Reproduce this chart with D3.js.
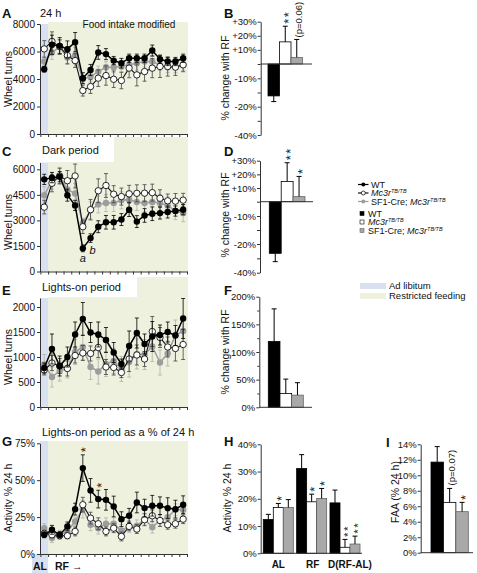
<!DOCTYPE html>
<html><head><meta charset="utf-8">
<script src="https://cdn.jsdelivr.net/npm/d3@7"></script>
<style>body{margin:0;background:#fff}svg{display:block}</style>
</head><body><svg id="chart" width="477" height="573"></svg>
<script>
// ---------------- DATA ----------------
const days = d3.range(19);
const genotypes = ["WT", "Mc3r", "SF1"];

const A_wt   = [4710,6490,6410,6170,6680,4060,4660,5930,5810,5340,5150,5510,5510,5510,6070,5440,5270,5270,5510];
const A_mc3r = [6190,6730,6360,5710,5340,3160,3450,4060,4250,3980,3890,4790,4300,4540,4790,4910,4910,4860,5030];
const A_sf1  = [5270,5930,6320,5560,5710,3980,4180,4540,4860,4860,4910,5030,5150,5270,5270,5030,4860,4860,5030];
const A_wt_err   = [200,700,600,600,700,400,400,500,400,300,350,300,300,300,400,300,300,300,300];
const A_mc3r_err = [600,700,500,600,500,400,500,600,700,600,600,700,800,700,700,800,700,600,500];
const A_sf1_err  = [300,500,500,500,600,300,400,400,400,400,400,400,500,400,400,400,400,400,400];

const C_wt   = [5410,5510,5570,4480,3880,1360,1960,2630,2890,2890,3050,3630,2930,3290,3390,3430,3490,3550,3630];
const C_mc3r = [3780,5180,5610,5330,5610,2630,3630,4740,5050,4540,4400,4560,4590,4600,4630,4300,4150,4130,4190];
const C_sf1  = [4480,5330,5610,4820,4580,2830,3590,3940,4020,4020,4180,4220,4080,4020,4080,4020,3880,3550,3430];
const C_wt_err   = [300,300,300,350,300,200,250,350,400,400,350,400,350,400,400,350,350,300,300];
const C_mc3r_err = [400,500,450,600,700,400,600,700,700,500,500,500,500,500,500,500,400,450,400];
const C_sf1_err  = [500,500,500,500,600,300,500,500,500,500,500,500,500,500,500,500,500,500,500];

const E_wt   = [780,1160,820,1000,1450,1760,1490,1450,1340,1090,860,1220,1480,1260,1410,1440,1500,1430,1770];
const E_mc3r = [740,880,820,770,1030,1080,1070,1190,800,790,690,960,1040,960,1510,1390,1200,1170,1250];
const E_sf1  = [850,600,720,780,1100,1200,800,710,860,920,760,900,1060,1050,1210,890,1070,1440,1520];
const E_wt_err   = [100,300,200,200,250,330,200,250,250,200,100,300,300,200,300,200,200,200,400];
const E_mc3r_err = [100,150,150,150,150,150,150,200,150,150,100,250,200,150,300,200,200,250,300];
const E_sf1_err  = [200,200,200,200,250,250,250,250,250,250,250,300,300,300,300,250,250,300,300];

const G_wt   = [13,16.4,13,18.7,30.4,58.2,43.1,37.2,36.7,32.2,23.6,25.9,34.9,31.1,32.7,32.7,31.1,30.4,33.4];
const G_mc3r = [14,13,12.4,12.4,15.3,33.4,24.3,20.5,15.3,17.5,11.9,18.7,16.9,23.2,25.9,22.7,19.8,20.5,23.6];
const G_sf1  = [17.5,10.8,13,15.3,22,30.4,19.8,17.5,20.5,20.5,16,18.7,19.1,23.6,18.2,22.7,25,30,30];
const G_wt_err   = [2,3,2,3,4,9,8,6,7,7,5,5,7,6,7,6,7,6,6];
const G_mc3r_err = [2,2,2,2,3,5,4,4,3,3,3,3,3,4,4,4,3,3,3];
const G_sf1_err  = [3,3,3,3,3,6,4,4,4,4,4,4,4,4,4,4,4,4,4];

const B_vals = [-16.2, 15.7, 4.7];   const B_errs = [2.0, 11.1, 12.7];
const D_vals = [-26.5, 14.8, 3.7];   const D_errs = [5.8, 13.7, 14.8];
const F_vals = [119, 25, 22];        const F_errs = [59, 26, 22.5];
const H_groups = ["AL", "RF", "D(RF-AL)"];
const H_wt   = [12.4, 31.1, 18.5];  const H_wt_err   = [1.9, 5.1, 4.7];
const H_mc3r = [16.8, 18.9, 2.2];   const H_mc3r_err = [1.5, 2.8, 2.9];
const H_sf1  = [16.8, 20.1, 3.4];   const H_sf1_err  = [2.9, 3.7, 2.9];
const I_vals = [11.7, 6.5, 5.3];    const I_errs = [2.0, 1.8, 1.2];

const ticksA = [0,2000,4000,6000,8000];
const ticksC = [0,1500,3000,4500,6000];
const ticksE = [0,500,1000,1500,2000];
const ticksG = [0,25,50,75];
const ticksBD = [30,20,10,0,-10,-15,-20,-30,-40];
const labelsBD = {30:"+30%",20:"+20%",10:"+10%","-10":"-10%","-20":"-20%","-40":"-40%"};

// ---------------- SETUP ----------------
const svg = d3.select('#chart');
const FONT = '"Liberation Sans", Arial, Helvetica, sans-serif';
const GREEN = '#eef1dd', BLUE = '#d9e1f1', AXIS = '#333';

function styleAxis(g, fs) {
  g.attr('font-family', FONT).attr('font-size', fs);
  g.selectAll('path.domain').attr('stroke', AXIS);
  g.selectAll('.tick line').attr('stroke', AXIS);
  g.selectAll('.tick text').attr('fill', '#111');
}
function text(x, y, s, o = {}) {
  const t = svg.append('text').attr('x', x).attr('y', y).text(s)
    .attr('font-family', FONT).attr('font-size', o.size || 10)
    .attr('fill', o.fill || '#111');
  if (o.anchor) t.attr('text-anchor', o.anchor);
  if (o.weight) t.attr('font-weight', o.weight);
  if (o.style) t.attr('font-style', o.style);
  if (o.ls) t.attr('letter-spacing', o.ls);
  if (o.rotate) t.attr('transform', `rotate(${o.rotate},${x},${y})`);
  return t;
}
// significance stars, stacked vertically as one rotated string starting just above yTop
function stars(xc, yTop, n, size = 13) {
  text(xc + 0.58 * size, yTop - 2.5, '*'.repeat(n), {size, rotate: -90, ls: n > 1 ? 1.5 : 0, fill: '#222'});
}

const SERIES = {
  sf1:  {line: '#9d9d9d', lw: 1.5, fill: '#9d9d9d', stroke: 'none', err: '#b0b0b0'},
  mc3r: {line: '#111',    lw: 1.1, fill: '#fff',    stroke: '#111', err: '#444'},
  wt:   {line: '#000',    lw: 1.5, fill: '#000',    stroke: 'none', err: '#000'}
};

const xLine = d3.scaleLinear().domain([-0.55, 18.5]).range([40, 187]);

function linePanel(p) {
  const y = d3.scaleLinear().domain([0, p.yMax]).range([p.bottom, p.top]);
  const xr = xLine(0.5);
  svg.append('rect').attr('x', xr).attr('y', p.greenTop).attr('width', 188 - xr)
    .attr('height', p.bottom - p.greenTop).attr('fill', GREEN);
  svg.append('rect').attr('x', 40).attr('y', p.blueTop).attr('width', xr - 40)
    .attr('height', p.bottom - p.blueTop).attr('fill', BLUE);
  if (p.box) svg.append('rect').attr('x', p.box[0]).attr('y', p.box[1]).attr('width', p.box[2])
    .attr('height', p.box[3]).attr('fill', '#fff');
  const ya = svg.append('g').attr('transform', 'translate(40,0)')
    .call(d3.axisLeft(y).tickValues(p.ticks).tickFormat(p.fmt).tickSize(3).tickSizeOuter(0).tickPadding(2));
  styleAxis(ya, 10);
  const xa = svg.append('g').attr('transform', `translate(0,${p.bottom})`)
    .call(d3.axisBottom(xLine).tickValues(d3.range(-0.5, 19, 1)).tickFormat('').tickSize(3).tickSizeOuter(0));
  styleAxis(xa, 10);
  for (const key of ['sf1', 'mc3r', 'wt']) {
    const s = SERIES[key], vals = p.data[key], errs = p.errs[key];
    const g = svg.append('g');
    days.forEach(i => {
      const x = xLine(i), y1 = y(Math.max(0, vals[i] - errs[i])), y2 = y(vals[i] + errs[i]);
      g.append('line').attr('x1', x).attr('x2', x).attr('y1', y1).attr('y2', y2).attr('stroke', s.err).attr('stroke-width', 0.8);
      [y1, y2].forEach(yy => g.append('line').attr('x1', x - 2).attr('x2', x + 2).attr('y1', yy).attr('y2', yy).attr('stroke', s.err).attr('stroke-width', 0.8));
    });
    g.append('path').datum(vals).attr('fill', 'none').attr('stroke', s.line).attr('stroke-width', s.lw)
      .attr('d', d3.line().x((d, i) => xLine(i)).y(d => y(d)));
    g.selectAll('circle').data(vals).join('circle').attr('cx', (d, i) => xLine(i)).attr('cy', d => y(d))
      .attr('r', 3.2).attr('fill', s.fill).attr('stroke', s.stroke).attr('stroke-width', 0.9);
  }
  return y;
}

const fmtNum = d => d;
const fmtPct = d => d + '%';

// ---- A ----
linePanel({top: 24, bottom: 134, yMax: 8000, ticks: ticksA, fmt: fmtNum, greenTop: 22, blueTop: 24,
  data: {wt: A_wt, mc3r: A_mc3r, sf1: A_sf1}, errs: {wt: A_wt_err, mc3r: A_mc3r_err, sf1: A_sf1_err}});
text(2, 18, 'A', {size: 13, weight: 'bold'});
text(40, 17, '24 h', {size: 11});
text(129, 28, 'Food intake modified', {size: 10, anchor: 'middle'});
text(12, 79, 'Wheel turns', {size: 10.5, anchor: 'middle', rotate: -90});

// ---- C ----
const yC = linePanel({top: 162.5, bottom: 271.5, yMax: 6400, ticks: ticksC, fmt: fmtNum, greenTop: 137, blueTop: 162.5,
  box: [37, 137, 77, 25],
  data: {wt: C_wt, mc3r: C_mc3r, sf1: C_sf1}, errs: {wt: C_wt_err, mc3r: C_mc3r_err, sf1: C_sf1_err}});
text(2, 156, 'C', {size: 13, weight: 'bold'});
text(42, 154, 'Dark period', {size: 11});
text(12, 222, 'Wheel turns', {size: 10.5, anchor: 'middle', rotate: -90});
text(xLine(5), yC(C_wt[5]) + 14, 'a', {size: 11, style: 'italic', anchor: 'middle'});
text(xLine(6) + 2, yC(C_wt[6]) + 16, 'b', {size: 11, style: 'italic', anchor: 'middle'});

// ---- E ----
linePanel({top: 298, bottom: 407, yMax: 2180, ticks: ticksE, fmt: fmtNum, greenTop: 277, blueTop: 298,
  box: [37, 277, 100, 20],
  data: {wt: E_wt, mc3r: E_mc3r, sf1: E_sf1}, errs: {wt: E_wt_err, mc3r: E_mc3r_err, sf1: E_sf1_err}});
text(2, 295, 'E', {size: 13, weight: 'bold'});
text(42, 291, 'Lights-on period', {size: 11});
text(12, 357, 'Wheel turns', {size: 10.5, anchor: 'middle', rotate: -90});

// ---- G ----
svg.append('rect').attr('x', 32).attr('y', 554).attr('width', xLine(0.5) - 32).attr('height', 19).attr('fill', BLUE);
const yG = linePanel({top: 443.3, bottom: 554, yMax: 75, ticks: ticksG, fmt: fmtPct, greenTop: 441, blueTop: 441,
  data: {wt: G_wt, mc3r: G_mc3r, sf1: G_sf1}, errs: {wt: G_wt_err, mc3r: G_mc3r_err, sf1: G_sf1_err}});
text(2, 446, 'G', {size: 13, weight: 'bold'});
text(42, 436, 'Lights-on period as a % of 24 h', {size: 11});
text(12, 498, 'Activity % 24 h', {size: 10.5, anchor: 'middle', rotate: -90});
text(40, 570, 'AL', {size: 10.5, weight: 'bold', anchor: 'middle'});
text(55, 570, 'RF \u2192', {size: 10.5, weight: 'bold'});
stars(xLine(5), yG(G_wt[5] + G_wt_err[5]), 1);
stars(xLine(7), yG(G_wt[7] + G_wt_err[7]), 1);

// ---------------- BAR PANELS ----------------
const BAR = [
  {fill: '#000', stroke: '#000'},
  {fill: '#fff', stroke: '#000'},
  {fill: '#a9a9a9', stroke: '#666'}
];
function bar(x0, w, v, e, y, k) {
  const st = BAR[k];
  svg.append('rect').attr('x', x0).attr('width', w).attr('y', y(Math.max(0, v)))
    .attr('height', Math.abs(y(v) - y(0))).attr('fill', st.fill).attr('stroke', st.stroke).attr('stroke-width', 0.8);
  const xc = x0 + w / 2, ye = y(v >= 0 ? v + e : v - e);
  svg.append('line').attr('x1', xc).attr('x2', xc).attr('y1', y(v)).attr('y2', ye).attr('stroke', '#000').attr('stroke-width', 1);
  svg.append('line').attr('x1', xc - 2.5).attr('x2', xc + 2.5).attr('y1', ye).attr('y2', ye).attr('stroke', '#000').attr('stroke-width', 1);
  return ye;
}
function barAxis(ax, y, ticks, fmt) {
  const g = svg.append('g').attr('transform', `translate(${ax},0)`)
    .call(d3.axisLeft(y).tickValues(ticks).tickFormat(fmt).tickSize(3).tickSizeOuter(0).tickPadding(1));
  styleAxis(g, 9.5);
  return g;
}
function baseline(x1, x2, yy) {
  svg.append('line').attr('x1', x1).attr('x2', x2).attr('y1', yy).attr('y2', yy).attr('stroke', AXIS).attr('stroke-width', 1);
}

// ---- B ----
const yB = d3.scaleLinear().domain([-40, -20, -10, 0, 30]).range([135, 106.7, 78.3, 64, 21.7]);
barAxis(260.7, yB, ticksBD, d => labelsBD[d] || '');
const xB = d3.scaleBand().domain(genotypes).range([268, 302.5]);
const eB = genotypes.map((g, k) => bar(xB(g), xB.bandwidth(), B_vals[k], B_errs[k], yB, k));
baseline(260.7, 312, yB(0));
stars(xB('Mc3r') + xB.bandwidth() / 2, eB[1], 2);
text(302.5, eB[2] - 2, '(p=0.06)', {size: 9.5, rotate: -90});
text(224, 18, 'B', {size: 13, weight: 'bold'});
text(229, 78, '% change with RF', {size: 10.5, anchor: 'middle', rotate: -90});

// ---- D ----
const yD = d3.scaleLinear().domain([-40, -20, -10, 0, 30]).range([272.7, 244, 216, 201.7, 160.7]);
barAxis(260, yD, ticksBD, d => labelsBD[d] || '');
const xD = d3.scaleBand().domain(genotypes).range([269.3, 305]);
const eD = genotypes.map((g, k) => bar(xD(g), xD.bandwidth(), D_vals[k], D_errs[k], yD, k));
baseline(260, 313, yD(0));
stars(xD('Mc3r') + xD.bandwidth() / 2, eD[1], 2);
stars(xD('SF1') + xD.bandwidth() / 2, eD[2], 1);
text(224, 156, 'D', {size: 13, weight: 'bold'});
text(229, 215, '% change with RF', {size: 10.5, anchor: 'middle', rotate: -90});

// ---- F ----
const yF = d3.scaleLinear().domain([0, 200]).range([407.3, 296.7]);
barAxis(259.3, yF, [0, 50, 100, 150, 200], fmtPct);
svg.append('g').attr('transform', 'translate(259.3,0)')
  .call(d3.axisLeft(yF).tickValues([25, 75, 125, 175]).tickFormat('').tickSize(2).tickSizeOuter(0))
  .call(g => { g.select('.domain').remove(); g.selectAll('line').attr('stroke', AXIS); });
const xF = d3.scaleBand().domain(genotypes).range([268.3, 303.3]);
genotypes.forEach((g, k) => bar(xF(g), xF.bandwidth(), F_vals[k], F_errs[k], yF, k));
baseline(259.3, 312, yF(0));
text(224, 295, 'F', {size: 13, weight: 'bold'});
text(229, 352, '% change with RF', {size: 10.5, anchor: 'middle', rotate: -90});

// ---- H ----
const yH = d3.scaleLinear().domain([0, 40]).range([553.3, 444.3]);
barAxis(260.7, yH, [0, 10, 20, 30, 40], fmtPct);
const xH = d3.scaleBand().domain(H_groups).range([263.3, 360]).paddingInner(0.1);
const xHi = d3.scaleBand().domain(genotypes).range([0, xH.bandwidth()]);
const Hv = [H_wt, H_mc3r, H_sf1], He = [H_wt_err, H_mc3r_err, H_sf1_err];
const eH = H_groups.map((grp, j) => genotypes.map((g, k) =>
  bar(xH(grp) + xHi(g), xHi.bandwidth(), Hv[k][j], He[k][j], yH, k)));
baseline(260.7, 362, yH(0));
const cH = (grp, g) => xH(grp) + xHi(g) + xHi.bandwidth() / 2;
stars(cH('AL', 'Mc3r'), eH[0][1], 1);
stars(cH('RF', 'Mc3r'), eH[1][1], 1);
stars(cH('RF', 'SF1'), eH[1][2], 1);
stars(cH('D(RF-AL)', 'Mc3r'), eH[2][1], 2, 11.5);
stars(cH('D(RF-AL)', 'SF1'), eH[2][2], 2, 11.5);
const hLabelShift = [0, 1, 5];
H_groups.forEach((grp, j) => text(xH(grp) + xH.bandwidth() / 2 + hLabelShift[j], 568, grp, {size: 10, weight: 'bold', anchor: 'middle'}));
text(224, 446, 'H', {size: 13, weight: 'bold'});
text(231, 498, 'Activity % 24 h', {size: 10.5, anchor: 'middle', rotate: -90});

// ---- I ----
const yI = d3.scaleLinear().domain([0, 14]).range([552.7, 444.3]);
barAxis(420.7, yI, [0, 2, 4, 6, 8, 10, 12, 14], fmtPct);
const xI = d3.scaleBand().domain(genotypes).range([431, 468.3]);
const eI = genotypes.map((g, k) => bar(xI(g), xI.bandwidth(), I_vals[k], I_errs[k], yI, k));
baseline(420.7, 473, yI(0));
text(xI('Mc3r') + xI.bandwidth() / 2 + 5.5, eI[1] - 3, '(p=0.07)', {size: 9.5, rotate: -90});
stars(xI('SF1') + xI.bandwidth() / 2, eI[2], 1);
text(386, 447, 'I', {size: 13, weight: 'bold'});
text(399, 492, 'FAA (% 24 h)', {size: 10.5, anchor: 'middle', rotate: -90});

// ---------------- LEGENDS ----------------
function genoLabel(x, y, k) {
  const t = svg.append('text').attr('x', x).attr('y', y).attr('font-family', FONT).attr('font-size', 9).attr('fill', '#111');
  if (k === 0) t.text('WT');
  else {
    if (k === 2) t.append('tspan').text('SF1-Cre; ');
    t.append('tspan').attr('font-style', 'italic').text('Mc3r');
    t.append('tspan').attr('font-style', 'italic').attr('font-size', 5.5).attr('dy', -3).text('TB/TB');
  }
}
const legRowsLine = [184.5, 193, 201.5];
['wt', 'mc3r', 'sf1'].forEach((key, k) => {
  const s = SERIES[key], yy = legRowsLine[k];
  svg.append('line').attr('x1', 358).attr('x2', 368.5).attr('y1', yy).attr('y2', yy).attr('stroke', s.line).attr('stroke-width', 1.2);
  svg.append('circle').attr('cx', 363.3).attr('cy', yy).attr('r', 2).attr('fill', s.fill).attr('stroke', s.stroke).attr('stroke-width', 0.8);
  genoLabel(371, yy + 3, k);
});
const legRowsBar = [213.5, 222, 230.5];
genotypes.forEach((g, k) => {
  const yy = legRowsBar[k];
  svg.append('rect').attr('x', 360).attr('y', yy - 2).attr('width', 4).attr('height', 4)
    .attr('fill', BAR[k].fill).attr('stroke', BAR[k].stroke).attr('stroke-width', 0.6);
  genoLabel(368, yy + 3, k);
});
svg.append('rect').attr('x', 360).attr('y', 283).attr('width', 26).attr('height', 6).attr('fill', BLUE);
text(389, 289, 'Ad libitum', {size: 9.5});
svg.append('rect').attr('x', 360).attr('y', 293).attr('width', 26).attr('height', 6).attr('fill', GREEN);
text(389, 299, 'Restricted feeding', {size: 9.5});
</script>
</body></html>
